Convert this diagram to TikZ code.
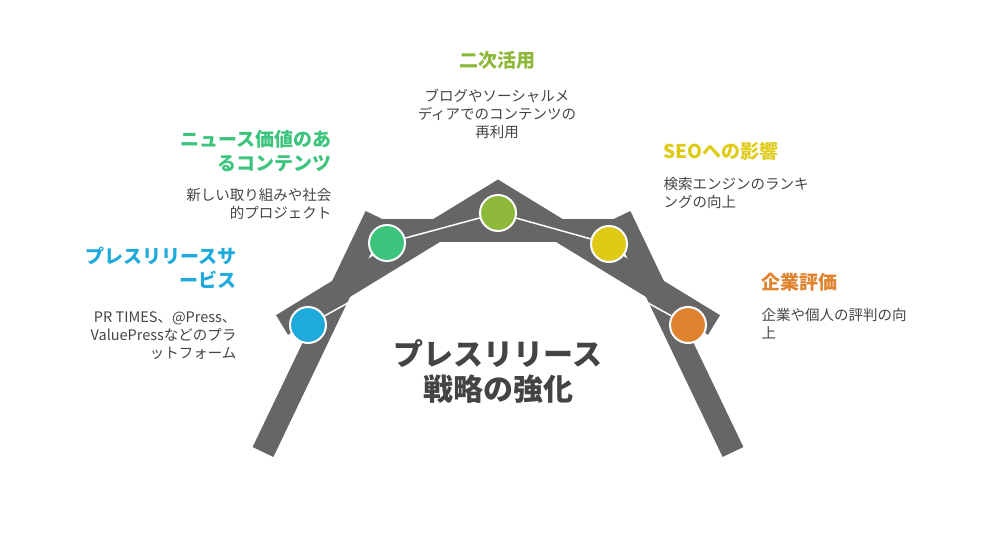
\documentclass[tikz,border=0pt]{standalone}
\usepackage{fontspec}
\setmainfont{Noto Sans CJK JP}
\begin{document}
\begin{tikzpicture}[x=1pt,y=-1pt,
  beam/.style={line width=23pt,draw=bgray},
  dot/.style={circle,draw=white,line width=2pt,minimum size=36pt,inner sep=0pt},
  head/.style={font=\fontsize{19}{24}\selectfont\bfseries},
  desc/.style={font=\fontsize{14.5}{18}\selectfont,text=dtext}]
\definecolor{bgray}{HTML}{666666}
\definecolor{dtext}{HTML}{444444}
\definecolor{cblue}{HTML}{1EAADB}
\definecolor{cgreen}{HTML}{3CC47C}
\definecolor{colive}{HTML}{8DB83A}
\definecolor{cyellow}{HTML}{DFCB16}
\definecolor{corange}{HTML}{E0832F}
\useasboundingbox (0,0) rectangle (996,540);
\coordinate (lb) at (263,452); \coordinate (lt) at (376,216);
\coordinate (rb) at (733,452); \coordinate (rt) at (620,216);
\coordinate (hl) at (368,231); \coordinate (hr) at (628,231);
\coordinate (ll) at (282,325); \coordinate (ap) at (498,193); \coordinate (rr) at (714,325);
\coordinate (wl) at (357,298); \coordinate (wr) at (639,298);
\draw[beam] (lb) -- (lt);
\draw[beam] (rb) -- (rt);
\draw[beam] (hl) -- (hr);
\draw[beam] (ll) -- (ap) -- (rr);
\node[dot,fill=cblue] (c1) at (308,325) {};
\node[dot,fill=cgreen] (c2) at (387,243) {};
\node[dot,fill=colive] (c3) at (498,213) {};
\node[dot,fill=cyellow] (c4) at (609,244) {};
\node[dot,fill=corange] (c5) at (688,325) {};
\draw[white,line width=1.5pt] (c1) -- (wl);
\draw[white,line width=1.5pt] (c5) -- (wr);
\draw[white,line width=1.5pt] (c2) -- (c3) -- (c4);
\node[head,text=colive] (t3) at (497,60) {二次活用};
\node[desc,align=center] (d3) at (497,114) {ブログやソーシャルメ\\ディアでのコンテンツの\\再利用};
\node[head,text=cgreen,align=right,anchor=east] (t2) at (335,151) {ニュース価値のあ\\るコンテンツ};
\node[desc,align=right,anchor=east] (d2) at (335,204) {新しい取り組みや社会\\的プロジェクト};
\node[head,text=cblue,align=right,anchor=east] (t1) at (240,268) {プレスリリースサ\\ービス};
\node[desc,align=right,anchor=east] (d1) at (240,336) {PR TIMES、@Press、\\ValuePressなどのプラ\\ットフォーム};
\node[head,text=cyellow,anchor=west] (t4) at (660,151) {SEOへの影響};
\node[desc,align=left,anchor=west] (d4) at (660,193) {検索エンジンのランキ\\ングの向上};
\node[head,text=corange,anchor=west] (t5) at (758,282) {企業評価};
\node[desc,align=left,anchor=west] (d5) at (758,324) {企業や個人の評判の向\\上};
\node[font=\fontsize{30}{35}\selectfont\bfseries,text=dtext,align=center] (m) at (498,371) {プレスリリース\\戦略の強化};
\end{tikzpicture}
\end{document}
